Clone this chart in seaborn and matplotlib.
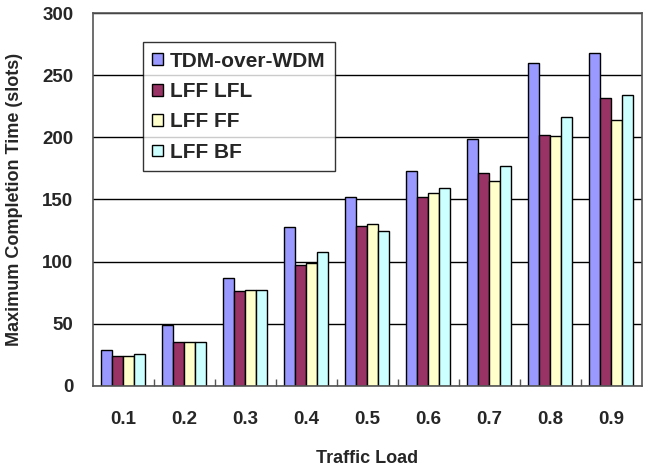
import matplotlib
matplotlib.use("Agg")
import matplotlib.pyplot as plt
import seaborn as sns
import pandas as pd

loads = ["0.1", "0.2", "0.3", "0.4", "0.5", "0.6", "0.7", "0.8", "0.9"]
series = ["TDM-over-WDM", "LFF LFL", "LFF FF", "LFF BF"]
tdm = [29, 49, 87, 128, 152, 173, 199, 260, 268]
lfl = [24, 35, 76, 97, 129, 152, 171, 202, 232]
ff = [24, 35, 77, 99, 130, 155, 165, 201, 214]
bf = [26, 35, 77, 108, 125, 159, 177, 216, 234]
colors = ["#9999FF", "#993366", "#FFFFCC", "#CCFFFF"]

rows = []
for name, vals in zip(series, [tdm, lfl, ff, bf]):
    for l, v in zip(loads, vals):
        rows.append({"load": l, "series": name, "value": v})
df = pd.DataFrame(rows)

sns.set_theme(style="white")
plt.rcParams["font.family"] = ["Liberation Sans", "DejaVu Sans"]
plt.rcParams["font.weight"] = "bold"

fig = plt.figure(figsize=(6.45, 4.66), dpi=100)
ax = fig.add_axes([0.144, 0.172, 0.851, 0.800])

sns.barplot(data=df, x="load", y="value", hue="series", hue_order=series,
            order=loads, palette=colors, width=0.72, edgecolor="black",
            linewidth=1, ax=ax, saturation=1, legend=True)

ax.set_ylim(0, 300)
ax.set_yticks(range(0, 301, 50))
ax.set_xlim(-0.5, len(loads) - 0.5)
ax.yaxis.grid(True, color="black", linewidth=1)
ax.set_axisbelow(True)
for s in ax.spines.values():
    s.set_color("#555555")
    s.set_linewidth(1.2)

ax.set_xlabel("Traffic Load", fontsize=13, fontweight="bold", labelpad=16)
ax.set_ylabel("Maximum Completion Time (slots)", fontsize=13, fontweight="bold", labelpad=14)
ax.tick_params(axis="x", labelsize=13.5, length=0, pad=18)
ax.tick_params(axis="y", labelsize=13.5, length=0, pad=14)
for t in ax.get_xticklabels() + ax.get_yticklabels():
    t.set_fontweight("bold")

# tick marks between categories
ax.set_xticks([i + 0.5 for i in range(len(loads) - 1)], minor=True)
ax.tick_params(axis="x", which="minor", direction="in", length=5, color="#555555", width=1, bottom=True)

leg = ax.legend(loc="upper left", bbox_to_anchor=(0.091, 0.922), frameon=True,
                fancybox=False, edgecolor="black", fontsize=15,
                handlelength=0.5, handleheight=0.5, handletextpad=0.35,
                labelspacing=0.55, borderpad=0.45, borderaxespad=0)
leg.get_frame().set_linewidth(1)
for t in leg.get_texts():
    t.set_fontweight("bold")

fig.savefig("out.png", dpi=100, facecolor="white")
